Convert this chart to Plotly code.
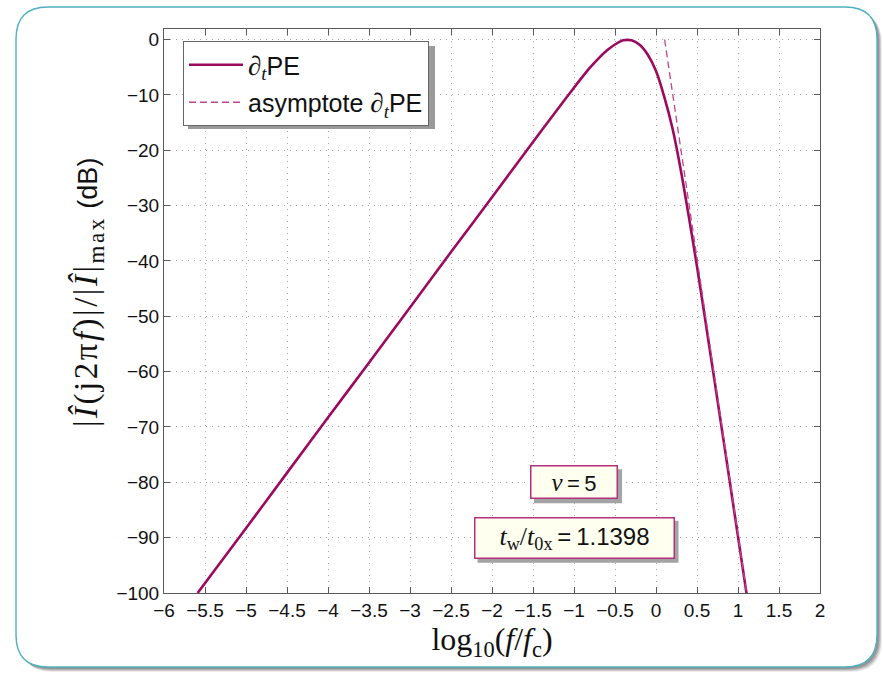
import plotly.graph_objects as go

# Normalised spectrum of the time-derivative pulse (dB) vs log10(f/fc)
log_f = [-5.59, -5.0, -4.5, -4.0, -3.5, -3.0, -2.5, -2.0, -1.5, -1.2, -1.0, -0.9,
         -0.8, -0.7, -0.6, -0.5, -0.4, -0.3, -0.2, -0.1, 0.0, 0.1, 0.2, 0.3,
         0.4, 0.5, 0.6, 0.7, 0.8, 0.9, 1.0, 1.1, 1.12]
level_db = [-100.0, -88.3, -78.3, -68.3, -58.4, -48.4, -38.4, -28.5, -18.5, -12.6,
            -8.7, -6.8, -5.0, -3.4, -2.0, -0.9, -0.15, -0.15, -0.95, -2.75, -5.7,
            -10.3, -16.0, -23.4, -32.0, -41.0, -50.6, -60.3, -70.1, -79.9, -89.8,
            -99.7, -101.7]

# High-frequency asymptote (-100 dB/decade)
asym_x = [0.105, 1.105]
asym_y = [0.0, -100.0]

x_ticks = [-6, -5.5, -5, -4.5, -4, -3.5, -3, -2.5, -2, -1.5, -1, -0.5, 0, 0.5, 1, 1.5, 2]
y_ticks = [0, -10, -20, -30, -40, -50, -60, -70, -80, -90, -100]

MAIN = "#9b0a5e"
DASH = "#c0478d"
SERIF = "Liberation Serif"
SANS = "Liberation Sans"
THIN = "\u2009"

W, H = 883, 673
ML, MR, MT, MB = 164, 63, 29, 80
PW, PH = W - ML - MR, H - MT - MB


def px(xp):
    return (xp - ML) / PW


def py(yp):
    return (H - MB - yp) / PH


def rounded_rect(x0, y0, x1, y1, r):
    pts = [
        f"M {px(x0 + r)} {py(y0)}",
        f"L {px(x1 - r)} {py(y0)}",
        f"Q {px(x1)} {py(y0)} {px(x1)} {py(y0 + r)}",
        f"L {px(x1)} {py(y1 - r)}",
        f"Q {px(x1)} {py(y1)} {px(x1 - r)} {py(y1)}",
        f"L {px(x0 + r)} {py(y1)}",
        f"Q {px(x0)} {py(y1)} {px(x0)} {py(y1 - r)}",
        f"L {px(x0)} {py(y0 + r)}",
        f"Q {px(x0)} {py(y0)} {px(x0 + r)} {py(y0)}",
        "Z",
    ]
    return " ".join(pts)


def serif(s, size=None):
    extra = f";font-size:{size}px" if size else ""
    return f"<span style=\"font-family:'{SERIF}'{extra}\">{s}</span>"


fig = go.Figure()

fig.add_trace(go.Scatter(
    x=log_f, y=level_db, mode="lines",
    line=dict(color=MAIN, width=2.6, shape="spline", smoothing=0.8),
    name=serif("∂<sub><i>t</i></sub>", 27) + "PE", legendgroup="a",
))
fig.add_trace(go.Scatter(
    x=asym_x, y=asym_y, mode="lines", line=dict(color=DASH, width=1.3, dash="7px,4px"),
    name="asymptote " + serif("∂<sub><i>t</i></sub>", 27) + "PE", legendgroup="b",
))

shapes = []
# frame shadow (soft) and frame
for off, op in [(5, 0.15), (4, 0.25), (3, 0.35), (2, 0.45)]:
    shapes.append(dict(type="path", xref="paper", yref="paper", layer="below",
                       path=rounded_rect(16 + off, 7 + off, 877 + off, 667 + off, 32),
                       fillcolor=f"rgba(120,120,120,{op})", line=dict(width=0)))
shapes.append(dict(type="path", xref="paper", yref="paper", layer="below",
                   path=rounded_rect(16, 7, 877, 667, 32),
                   fillcolor="white", line=dict(color="#4fb0c0", width=1.4)))

# legend shadow
LEG_L, LEG_T, LEG_R, LEG_B = 183, 41, 430, 125
shapes.append(dict(type="rect", xref="paper", yref="paper", layer="above",
                   x0=px(LEG_L + 5), x1=px(LEG_R + 5), y0=py(LEG_B + 4), y1=py(LEG_T + 5),
                   fillcolor="#9a9a9a", line=dict(width=0)))

# annotation box shadows
for cx, cy, w, h in [(-1.0, -80.0, 88, 34), (-1.0, -90.0, 201, 42)]:
    shapes.append(dict(type="rect", xref="x", yref="y", layer="above",
                       xsizemode="pixel", ysizemode="pixel",
                       xanchor=cx, yanchor=cy,
                       x0=-w / 2 + 4, x1=w / 2 + 4, y0=-h / 2 - 4, y1=h / 2 - 4,
                       fillcolor="#a3a3a3", line=dict(width=0)))

y_title = ("<span style=\"letter-spacing:2.5px\">|<i>Î</i>(j2π<i>f</i>)|/|<i>Î</i>|<sub>max</sub></span>"
           f"<span style=\"font-family:'{SANS}';font-size:27px\"> (dB)</span>")

annotations = [
    dict(x=-1.0, y=-80.0, xref="x", yref="y", showarrow=False,
         text=serif("<i>ν</i>", 25) + THIN + "=" + THIN + "5",
         font=dict(family=SANS, size=22, color="#111"),
         bgcolor="#fffff0", bordercolor="#b5307a", borderwidth=1.5, borderpad=0,
         width=85, height=31, xanchor="center", yanchor="middle"),
    dict(x=-1.0, y=-90.0, xref="x", yref="y", showarrow=False,
         text=serif("<i>t</i><sub>w</sub>/<i>t</i><sub>0x</sub>", 26) + THIN + "=" + THIN + "1.1398",
         font=dict(family=SANS, size=24, color="#111"),
         bgcolor="#fffff0", bordercolor="#b5307a", borderwidth=1.5, borderpad=0,
         width=198, height=39, xanchor="center", yanchor="middle"),
    # y-axis title
    dict(x=px(88), y=py(293), xref="paper", yref="paper", showarrow=False,
         textangle=-90, xanchor="center", yanchor="middle",
         text=y_title, font=dict(family=SERIF, size=33, color="#111")),
]

axis_common = dict(
    showline=True, linecolor="#5a5a5a", linewidth=1, mirror="ticks",
    ticks="inside", ticklen=6, tickcolor="#5a5a5a", tickwidth=1,
    showgrid=True, gridcolor="#a8a8a8", gridwidth=1, griddash="1px,5px",
    zeroline=False, tickfont=dict(family=SANS, size=19, color="#111"),
)

fig.update_xaxes(
    range=[-6, 2], tickvals=x_ticks, ticktext=[f"{v:g}".replace("-", "−") for v in x_ticks],
    title=dict(text="log<sub>10</sub>(<i>f</i>/<i>f</i><sub>c</sub>)",
               font=dict(family=SERIF, size=32, color="#111"), standoff=0),
    **axis_common,
)
fig.update_yaxes(
    range=[-100, 1.9], tickvals=y_ticks, ticktext=[f"{v:g}".replace("-", "−") for v in y_ticks],
    **axis_common,
)

fig.update_layout(
    width=W, height=H,
    margin=dict(l=ML, r=MR, t=MT, b=MB),
    paper_bgcolor="white", plot_bgcolor="rgba(0,0,0,0)",
    shapes=shapes, annotations=annotations,
    showlegend=True,
    legend=dict(x=px(LEG_L), y=py(LEG_T), xanchor="left", yanchor="top",
                bgcolor="white", bordercolor="#666", borderwidth=1,
                font=dict(family=SANS, size=25, color="#111"),
                traceorder="grouped", tracegroupgap=2, itemwidth=54),
)

fig.write_html("out.html")
